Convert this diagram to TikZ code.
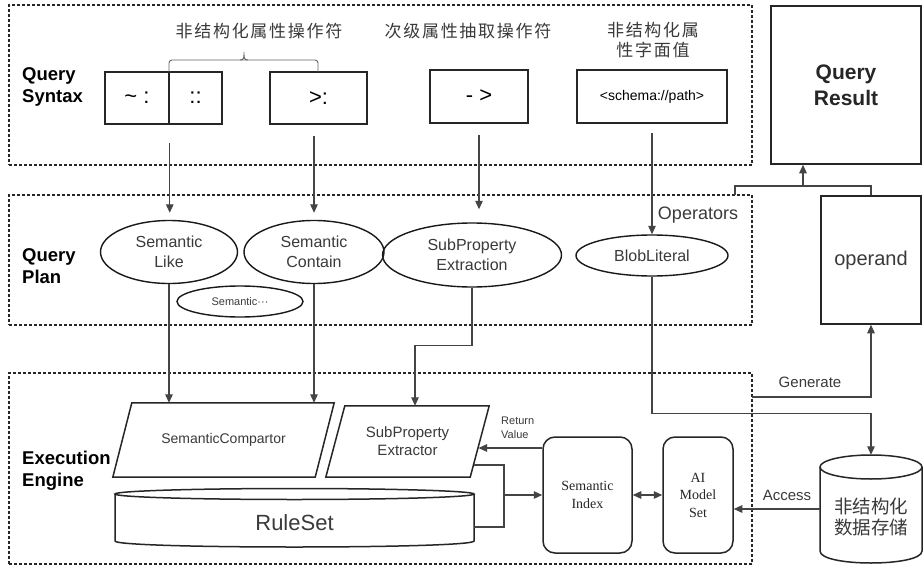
\documentclass[tikz,border=0pt]{standalone}
\usepackage{fontspec}
\setmainfont{Liberation Sans}
\newfontfamily\cjk{Noto Sans CJK SC}
\newfontfamily\cjkls{Noto Sans CJK SC}[LetterSpace=10]
\newfontfamily\serifx{Liberation Serif}
\usetikzlibrary{shapes.geometric,arrows.meta}
\definecolor{txt}{HTML}{3A3A3A}
\definecolor{ln}{HTML}{444444}
\begin{document}
\begin{tikzpicture}[x=1pt,y=-1pt,
  dbox/.style={draw=black!85, line width=1.2pt, dash pattern=on 3pt off 2pt, inner sep=0pt},
  sbox/.style={draw=black!85, line width=1.5pt, inner sep=0pt, font=\fontsize{22}{24}\selectfont},
  shp/.style={draw=black!85, line width=1.5pt},
  ell/.style={ellipse, draw=black!90, line width=1.4pt, inner sep=0pt, align=center, text=txt, font=\fontsize{16}{20}\selectfont},
  rbox/.style={draw=black!85, line width=1.5pt, rounded corners=12pt, inner sep=0pt, align=center, text=black!85, font=\serifx\fontsize{14}{17.5}\selectfont},
  arr/.style={draw=ln, line width=1.1pt, -{Triangle[length=8.5pt,width=7.5pt]}},
  con/.style={draw=ln, line width=1.1pt},
  lbl/.style={font=\bfseries\fontsize{18.5}{22}\selectfont, align=left, anchor=west, inner sep=0pt},
  hdr/.style={font=\cjkls\fontsize{17}{20}\selectfont, text=txt, align=center, inner sep=0pt},
  plain/.style={text=txt, inner sep=0pt},
]
\useasboundingbox (0,0) rectangle (923,567);
\fill[white] (0,0) rectangle (923,567);

% regions
\node[dbox, minimum width=743, minimum height=160] (qs) at (380.5,85) {};
\node[dbox, minimum width=743, minimum height=130] (qp) at (380.5,260) {};
\node[dbox, minimum width=743, minimum height=191] (ee) at (380.5,468.5) {};

\node[lbl] (lqs) at (22,87) {Query\\Syntax};
\node[lbl] (lqp) at (22,266) {Query\\Plan};
\node[lbl] (lee) at (22,471) {Execution\\Engine};

% syntax
\node[sbox, minimum width=64, minimum height=52] (tl) at (137,98) {\textasciitilde\ :};
\node[sbox, minimum width=53, minimum height=52] (tr) at (195.5,98) {::};
\node[sbox, minimum width=97, minimum height=52] (gt) at (318.5,98) {>:};
\node[sbox, minimum width=98, minimum height=53] (ar) at (479,96.5) {-\;>};
\node[sbox, minimum width=150, minimum height=53, font=\fontsize{14}{16}\selectfont] (sp) at (652,96.5) {<schema://path>};

\draw[draw=black!60, line width=0.9pt, rounded corners=3pt] (169,72) |- (318,60) -- (318,72);
\draw[draw=black!60, line width=0.9pt] (240,60) .. controls (244,60) and (244,58) .. (244,52) .. controls (244,58) and (244,60) .. (248,60);

\node[hdr] (h1) at (259,31) {非结构化属性操作符};
\node[hdr] (h2) at (468,31) {次级属性抽取操作符};
\node[hdr] (h3) at (653,40) {非结构化属\\性字面值};

% result + operand
\node[shp, minimum width=150, minimum height=158, inner sep=0pt, align=center, font=\bfseries\fontsize{21}{26}\selectfont, text=black!85] (qr) at (846,85) {Query\\Result};
\node[shp, minimum width=100, minimum height=128, inner sep=0pt, font=\fontsize{20}{24}\selectfont, text=txt] (op) at (871,260) {operand};

% plan
\node[ell, minimum width=137, minimum height=63] (sl) at (169,252) {Semantic\\Like};
\node[ell, minimum width=140, minimum height=63] (scn) at (314,252) {Semantic\\Contain};
\node[ell, minimum width=179, minimum height=64] (spe) at (472,255) {SubProperty\\Extraction};
\node[ell, minimum width=152, minimum height=41] (bl) at (652,255.5) {BlobLiteral};
\node[ell, minimum width=126, minimum height=31, font=\fontsize{11}{13}\selectfont] (sd) at (240,301.5) {Semantic···};
\node[plain, font=\fontsize{18}{20}\selectfont] (opl) at (698,215) {Operators};

% engine
\node[minimum width=202, minimum height=74, inner sep=0pt, font=\fontsize{14}{17}\selectfont, text=txt] (sc) at (223.5,440) {SemanticCompartor};
\draw[shp] ([xshift=9.5pt]sc.north west) -- ([xshift=9.5pt]sc.north east) -- ([xshift=-9.5pt]sc.south east) -- ([xshift=-9.5pt]sc.south west) -- cycle;
\node[minimum width=144, minimum height=71, inner sep=0pt, align=center, font=\fontsize{15}{18}\selectfont, text=txt] (spx) at (407.5,441.5) {SubProperty\\Extractor};
\draw[shp] ([xshift=9.5pt]spx.north west) -- ([xshift=9.5pt]spx.north east) -- ([xshift=-9.5pt]spx.south east) -- ([xshift=-9.5pt]spx.south west) -- cycle;

\node[minimum width=359, minimum height=59, inner sep=0pt] (rs) at (294.5,517.5) {};
\draw[shp, fill=white] (115,494) -- (115,541) .. controls (115,549) and (474,549) .. (474,541) -- (474,494);
\draw[shp] (294.5,494) ellipse [x radius=179.5pt, y radius=5.5pt];
\node[plain, font=\fontsize{22}{26}\selectfont] (rst) at (294.5,523) {RuleSet};

\node[rbox, minimum width=89, minimum height=116] (si) at (587.5,495) {Semantic\\Index};
\node[rbox, minimum width=70, minimum height=116] (ai) at (698,495) {AI\\Model\\Set};

\node[minimum width=102, minimum height=108, inner sep=0pt] (ds) at (871,509) {};
\draw[shp, fill=white] (820,467) -- (820,551) .. controls (820,567) and (922,567) .. (922,551) -- (922,467);
\draw[shp] (871,467) ellipse [x radius=51pt, y radius=12pt];
\node[plain, align=center, font=\cjk\fontsize{18.5}{21}\selectfont] (dst) at (871,517) {非结构化\\数据存储};

% connectors: syntax -> plan
\draw[arr, shorten <=18pt, shorten >=7pt] (tl.south east) -- (tl.south east |- sl.north);
\draw[arr, shorten <=11pt, shorten >=7pt] (gt.south -| scn.north) -- (scn.north);
\draw[arr, shorten <=11pt, shorten >=13pt] (ar.south) -- (ar.south |- spe.north);
\draw[arr, shorten <=9pt] (sp.south) -- (bl.north);

% plan -> engine
\draw[arr] (sl.south) -- (sl.south |- sc.north);
\draw[arr] (scn.south) -- (scn.south |- sc.north);
\draw[arr] (spe.south) -- ++(0,58) -| ([xshift=7.5pt]spx.north);
\draw[arr] (bl.south) -- ++(0,137) -| (ds.north);

% operators/operand -> result
\coordinate (m) at (803,186);
\coordinate (os) at (735,195);
\draw[con] (os) |- (m) -| (op.north);
\draw[arr] (m) -- (m |- qr.south);

% generate
\coordinate (g0) at (752,397);
\draw[arr] (g0) -| (op.south);
\node[plain, font=\fontsize{15}{17}\selectfont] (gl) at (810,382) {Generate};

% engine internals
\coordinate (b1) at (474,465);
\coordinate (b2) at (474,527);
\coordinate (bk) at (504,495);
\draw[con] (b1) -| (bk) |- (b2);
\draw[arr] (bk) -- (si.west |- bk);
\coordinate (rv) at (478.5,448);
\draw[arr] (si.west |- rv) -- (rv);
\node[plain, align=left, anchor=west, font=\fontsize{11}{14}\selectfont] (rvl) at (501,428) {Return\\Value};
\draw[con, {Triangle[length=8.5pt,width=7.5pt]}-{Triangle[length=8.5pt,width=7.5pt]}] (si) -- (ai);
\draw[arr] (ds.west) -- (ds.west -| ai.east);
\node[plain, font=\fontsize{15}{17}\selectfont] (acl) at (787,495) {Access};
\end{tikzpicture}
\end{document}
